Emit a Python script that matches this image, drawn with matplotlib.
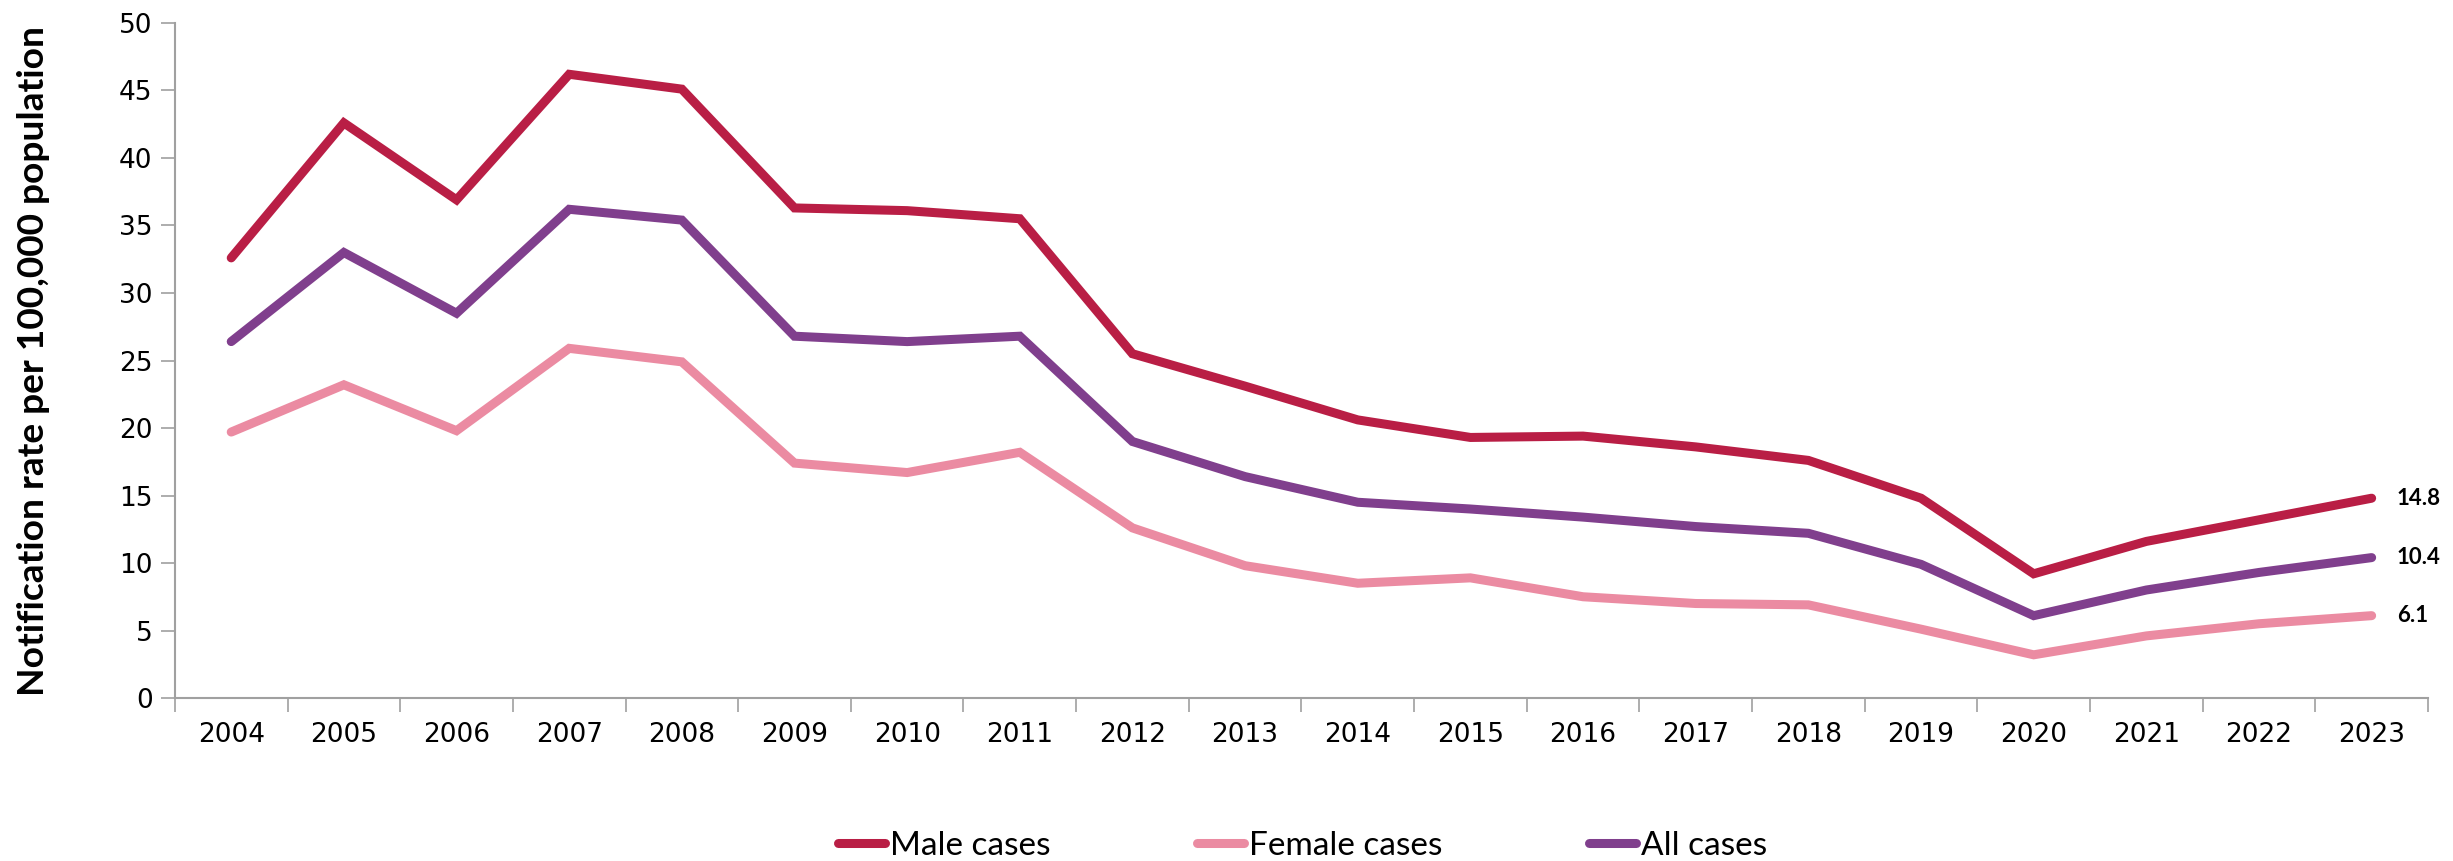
import matplotlib
matplotlib.use("Agg")
import matplotlib.pyplot as plt

years = ["2004", "2005", "2006", "2007", "2008", "2009", "2010", "2011", "2012", "2013",
         "2014", "2015", "2016", "2017", "2018", "2019", "2020", "2021", "2022", "2023"]
male = [32.6, 42.6, 36.9, 46.2, 45.1, 36.3, 36.1, 35.5, 25.5, 23.1,
        20.6, 19.3, 19.4, 18.6, 17.6, 14.8, 9.2, 11.6, 13.2, 14.8]
female = [19.7, 23.2, 19.8, 25.9, 24.9, 17.4, 16.7, 18.2, 12.6, 9.8,
          8.5, 8.9, 7.5, 7.0, 6.9, 5.1, 3.2, 4.6, 5.5, 6.1]
all_cases = [26.4, 33.0, 28.5, 36.2, 35.4, 26.8, 26.4, 26.8, 19.0, 16.4,
             14.5, 14.0, 13.4, 12.7, 12.2, 9.9, 6.1, 8.0, 9.3, 10.4]
series_names = ["Male cases", "Female cases", "All cases"]
colors = ["#B91E45", "#EB8BA2", "#803F8D"]

label_font = ["Lato", "DejaVu Sans"]

fig = plt.figure(figsize=(24.53, 8.61), dpi=100)
ax = fig.add_axes([0.0713, 0.1893, 0.9185, 0.7840])

x = list(range(len(years)))
lines = []
for vals, name, c in zip([male, female, all_cases], series_names, colors):
    ln, = ax.plot(x, vals, color=c, lw=6.5, solid_capstyle="round",
                  solid_joinstyle="miter", label=name)
    lines.append(ln)
    ax.annotate(f"{vals[-1]:.1f}", (x[-1], vals[-1]), xytext=(18, 0),
                textcoords="offset points", va="center", ha="left",
                fontsize=16, fontweight="bold", family=label_font)

ax.set_xlim(-0.5, len(years) - 0.5)
ax.set_ylim(0, 50)
ax.set_yticks(range(0, 51, 5))
ax.set_xticks(x)
ax.set_xticklabels(years)
ax.set_xticks([i - 0.5 for i in range(len(years) + 1)], minor=True)
ax.tick_params(axis="x", which="major", length=0, pad=17, labelsize=19)
ax.tick_params(axis="x", which="minor", length=10, width=1.2, color="#A0A0A0")
ax.tick_params(axis="y", length=10, width=1.2, color="#A0A0A0", labelsize=19, pad=6)

for s in ["top", "right"]:
    ax.spines[s].set_visible(False)
for s in ["left", "bottom"]:
    ax.spines[s].set_color("#A0A0A0")
    ax.spines[s].set_linewidth(1.5)

ax.set_ylabel("Notification rate per 100,000 population", fontsize=26.7,
              fontweight="bold", family=label_font, labelpad=50)

fig.legend(handles=lines, labels=series_names, loc="center",
           bbox_to_anchor=(0.531, 0.018), ncol=3, frameon=False,
           prop={"family": label_font, "size": 24}, handlelength=1.4,
           handletextpad=0.15, columnspacing=4.4)

fig.savefig("out.png", dpi=100)
